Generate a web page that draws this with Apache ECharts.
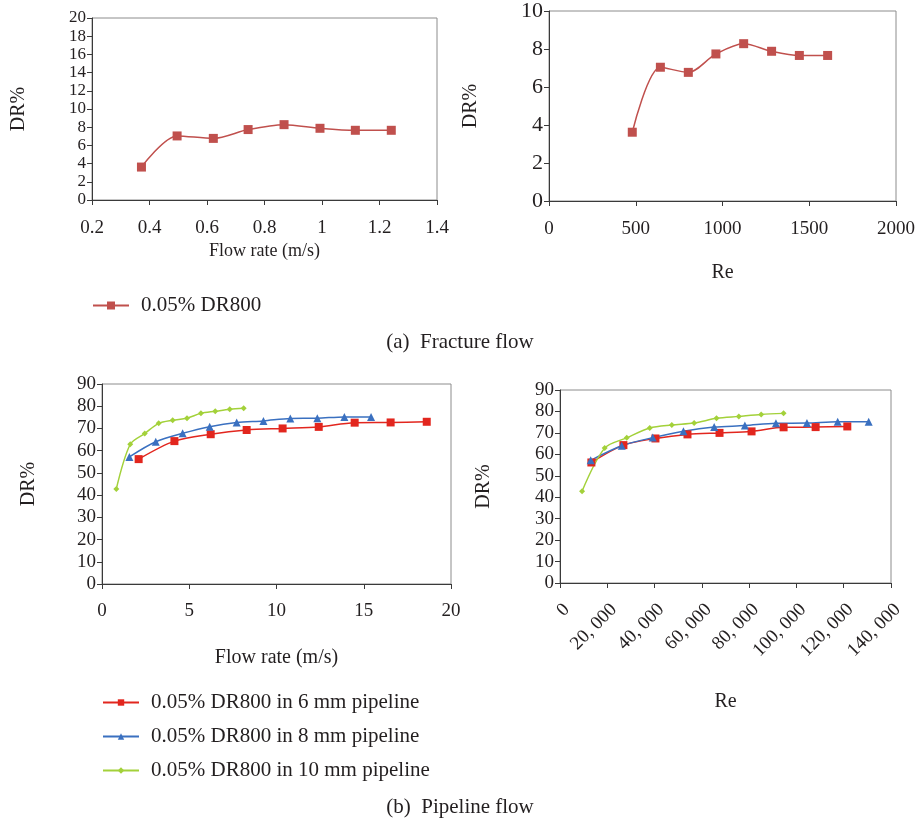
<!DOCTYPE html>
<html>
<head>
<meta charset="utf-8">
<script src="https://cdn.jsdelivr.net/npm/echarts@6/dist/echarts.min.js"></script>
<style>
html,body{margin:0;padding:0;background:#fff;}
#main{width:920px;height:824px;}
</style>
</head>
<body>
<div id="main"></div>
<script>
// ---- Data ----
// (a) Fracture flow
const fracFlow = [0.372, 0.496, 0.622, 0.743, 0.868, 0.993, 1.116, 1.241];
const fracRe   = [480, 642, 803, 962, 1122, 1283, 1443, 1606];
const fracDR   = [3.62, 7.04, 6.77, 7.74, 8.28, 7.88, 7.66, 7.66];

// (b) Pipeline flow
const flow6  = [2.10, 4.15, 6.23, 8.29, 10.35, 12.42, 14.48, 16.54, 18.61];
const re6    = [13270, 26820, 40370, 53920, 67470, 81020, 94570, 108120, 121520];
const dr6    = [56.2, 64.3, 67.4, 69.3, 70.0, 70.7, 72.6, 72.7, 73.0];

const flow8  = [1.57, 3.08, 4.62, 6.17, 7.72, 9.25, 10.79, 12.34, 13.89, 15.42];
const re8    = [12990, 26110, 39240, 52220, 65210, 78190, 91320, 104450, 117440, 130560];
const dr8    = [57.2, 64.0, 67.8, 70.8, 72.7, 73.4, 74.5, 74.6, 75.2, 75.2];

const flow10 = [0.82, 1.62, 2.45, 3.25, 4.05, 4.87, 5.67, 6.49, 7.32, 8.12];
const re10   = [9320, 18910, 28230, 37970, 47290, 56740, 66190, 75640, 85100, 94570];
const dr10   = [42.8, 62.9, 67.7, 72.3, 73.7, 74.6, 76.8, 77.7, 78.6, 79.1];

const nameFrac = '0.05% DR800';
const name6  = '0.05% DR800 in 6 mm pipeline';
const name8  = '0.05% DR800 in 8 mm pipeline';
const name10 = '0.05% DR800 in 10 mm pipeline';

const reTickLabels = ['0', '20, 000', '40, 000', '60, 000', '80, 000', '100, 000', '120, 000', '140, 000'];

// ---- Styles ----
const FONT = 'Liberation Serif';
const TXT = '#231f20';
const FS = 19;      // tick labels
const FS_NAME = 20; // axis names
const FS_LEG = 21;  // legend and captions

function pairs(xs, ys) { return xs.map((x, i) => [x, ys[i]]); }

function xAxisBase(gridIndex, min, max, interval, name, nameGap, margin, nameSize, extra) {
  return Object.assign({
    type: 'value', gridIndex, min, max, interval,
    name, nameLocation: 'middle', nameGap,
    nameTextStyle: { fontFamily: FONT, fontSize: nameSize, color: TXT },
    axisLine: { show: true, lineStyle: { color: '#3a3a3a', width: 1 } },
    axisTick: { show: true, length: 5, lineStyle: { color: '#3a3a3a' } },
    axisLabel: { fontFamily: FONT, fontSize: FS, color: TXT, margin: margin,
      showMinLabel: true, showMaxLabel: true,
      formatter: function (v) { return String(v); } },
    splitLine: { show: false }
  }, extra || {});
}
function yAxisBase(gridIndex, min, max, interval, nameGap, labelSize) {
  return {
    type: 'value', gridIndex, min, max, interval,
    name: 'DR%', nameLocation: 'middle', nameGap,
    nameTextStyle: { fontFamily: FONT, fontSize: FS_NAME, color: TXT },
    axisLine: { show: true, lineStyle: { color: '#3a3a3a', width: 1 } },
    axisTick: { show: true, length: 5, lineStyle: { color: '#3a3a3a' } },
    axisLabel: { fontFamily: FONT, fontSize: labelSize, color: TXT, margin: 6,
      showMinLabel: true, showMaxLabel: true },
    splitLine: { show: false }
  };
}

const RED_A = '#c0504d';
const RED = '#e2261e';
const BLUE = '#3a70c0';
const GREEN = '#a3d13a';

function lineSeries(name, xi, yi, data, color, symbol, size) {
  return {
    type: 'line', name, xAxisIndex: xi, yAxisIndex: yi, data,
    smooth: 0.3, symbol, symbolSize: size, showSymbol: true,
    lineStyle: { color, width: 1.5 },
    itemStyle: { color },
    animation: false
  };
}

const gridCommon = { show: true, borderColor: '#8c8c8c', borderWidth: 1, backgroundColor: 'transparent', containLabel: false };

const option = {
  animation: false,
  backgroundColor: '#ffffff',
  grid: [
    Object.assign({ left: 92, top: 18, width: 345, height: 182 }, gridCommon),
    Object.assign({ left: 549, top: 11, width: 347, height: 190 }, gridCommon),
    Object.assign({ left: 102, top: 384, width: 349, height: 200 }, gridCommon),
    Object.assign({ left: 560, top: 390, width: 331, height: 193 }, gridCommon)
  ],
  xAxis: [
    xAxisBase(0, 0.2, 1.4, 0.2, 'Flow rate (m/s)', 42, 19, 18),
    xAxisBase(1, 0, 2000, 500, 'Re', 62, 19, 20),
    xAxisBase(2, 0, 20, 5, 'Flow rate (m/s)', 64, 18, 20),
    xAxisBase(3, 0, 140000, 20000, 'Re', 109, 17, 20, {
      axisLabel: {
        fontFamily: FONT, fontSize: FS, color: TXT, margin: 17, rotate: 45,
        verticalAlign: 'top', showMinLabel: true, showMaxLabel: true,
        formatter: function (v) { return reTickLabels[Math.round(v / 20000)]; }
      }
    })
  ],
  yAxis: [
    yAxisBase(0, 0, 20, 2, 63, 17),
    yAxisBase(1, 0, 10, 2, 68, 22),
    yAxisBase(2, 0, 90, 10, 63, 19),
    yAxisBase(3, 0, 90, 10, 66, 19)
  ],
  legend: [
    {
      data: [nameFrac], left: 92, top: 295, orient: 'horizontal', padding: 0,
      itemWidth: 36, itemHeight: 10, itemGap: 12,
      textStyle: { fontFamily: FONT, fontSize: FS_LEG, color: TXT, padding: [0, 0, 0, 7] }
    },
    {
      data: [name6, name8, name10], left: 102, top: 692, orient: 'vertical', padding: 0,
      itemWidth: 36, itemHeight: 8, itemGap: 13,
      textStyle: { fontFamily: FONT, fontSize: FS_LEG, color: TXT, padding: [0, 0, 0, 7] }
    }
  ],
  series: [
    lineSeries(nameFrac, 0, 0, pairs(fracFlow, fracDR), RED_A, 'rect', 9),
    lineSeries(nameFrac, 1, 1, pairs(fracRe, fracDR), RED_A, 'rect', 9),
    lineSeries(name6, 2, 2, pairs(flow6, dr6), RED, 'rect', 8),
    lineSeries(name8, 2, 2, pairs(flow8, dr8), BLUE, 'triangle', 8),
    lineSeries(name10, 2, 2, pairs(flow10, dr10), GREEN, 'diamond', 6),
    lineSeries(name6, 3, 3, pairs(re6, dr6), RED, 'rect', 8),
    lineSeries(name8, 3, 3, pairs(re8, dr8), BLUE, 'triangle', 8),
    lineSeries(name10, 3, 3, pairs(re10, dr10), GREEN, 'diamond', 6)
  ],
  graphic: [
    { type: 'text', left: 'center', top: 332, style: { text: '(a)  Fracture flow', font: FS_LEG + 'px ' + FONT, fill: TXT } },
    { type: 'text', left: 'center', top: 797, style: { text: '(b)  Pipeline flow', font: FS_LEG + 'px ' + FONT, fill: TXT } }
  ]
};

const chart = echarts.init(document.getElementById('main'), null, { renderer: 'canvas' });
chart.setOption(option);
</script>
</body>
</html>
